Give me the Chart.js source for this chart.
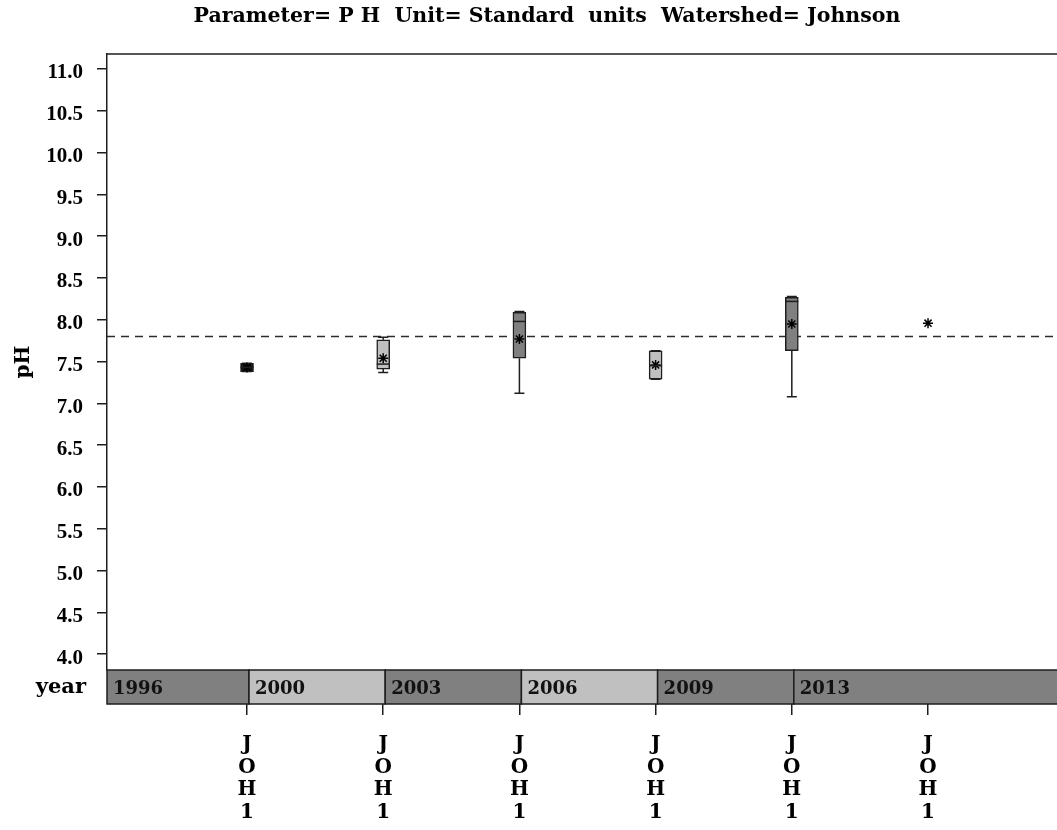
<!DOCTYPE html>
<html>
<head>
<meta charset="utf-8">
<script src="https://cdn.jsdelivr.net/npm/chart.js@4.4.1/dist/chart.umd.min.js"></script>
<style>
  html, body { margin: 0; padding: 0; background: #ffffff; }
  canvas { display: block; }
</style>
</head>
<body>
<canvas id="chart" width="1057" height="830"></canvas>
<script>
// pH summary by sampling year for station JOH1 (Johnson watershed)
const chartTitle = 'Parameter= P H  Unit= Standard  units  Watershed= Johnson';
const stationLabels = ['JOH1', 'JOH1', 'JOH1', 'JOH1', 'JOH1', 'JOH1'];
const years = ['1996', '2000', '2003', '2006', '2009', '2013'];
const yearShades = ['#808080', '#c0c0c0', '#808080', '#c0c0c0', '#808080', '#808080'];
const boxShades = ['#151515', '#c0c0c0', '#808080', '#c0c0c0', '#808080', null];

// box statistics (null where only one observation exists)
const whiskerLow  = [7.38, 7.37, 7.12, 7.29, 7.08, null];
const q1          = [7.38, 7.41, 7.54, 7.29, 7.63, null];
const median      = [7.43, 7.47, 7.98, 7.45, 8.22, null];
const q3          = [7.48, 7.76, 8.09, 7.63, 8.27, null];
const whiskerHigh = [7.48, 7.79, 8.10, 7.63, 8.28, null];
const means       = [7.43, 7.54, 7.77, 7.46, 7.95, 7.96];

const referenceLevel = 7.8;
const yTickValues = [4.0, 4.5, 5.0, 5.5, 6.0, 6.5, 7.0, 7.5, 8.0, 8.5, 9.0, 9.5, 10.0, 10.5, 11.0];

const SERIF = "'DejaVu Serif', serif";
const TIMES = "'Liberation Serif', serif";
const INK = '#1e1e1e';

const boxData = [];
const boxColors = [];
q1.forEach((lo, i) => {
  if (lo !== null) {
    boxData.push({ x: i, y: [lo, q3[i]] });
    boxColors.push(boxShades[i]);
  }
});
const meanData = means.map((m, i) => ({ x: i, y: m }));

const decorPlugin = {
  id: 'decor',
  beforeDatasetsDraw(chart) {
    const { ctx, chartArea, scales } = chart;
    const y = scales.y.getPixelForValue(referenceLevel);
    ctx.save();
    ctx.strokeStyle = '#2a2a2a';
    ctx.lineWidth = 1.5;
    ctx.setLineDash([8, 6]);
    ctx.beginPath();
    ctx.moveTo(chartArea.left, y);
    ctx.lineTo(chartArea.right, y);
    ctx.stroke();
    ctx.restore();

    // whiskers and caps
    ctx.save();
    ctx.strokeStyle = INK;
    ctx.lineWidth = 1.5;
    q1.forEach((lo, i) => {
      if (lo === null) return;
      const x = scales.x.getPixelForValue(i);
      const yLo = scales.y.getPixelForValue(whiskerLow[i]);
      const yQ1 = scales.y.getPixelForValue(q1[i]);
      const yQ3 = scales.y.getPixelForValue(q3[i]);
      const yHi = scales.y.getPixelForValue(whiskerHigh[i]);
      ctx.beginPath();
      ctx.moveTo(x, yQ1); ctx.lineTo(x, yLo);
      ctx.moveTo(x, yQ3); ctx.lineTo(x, yHi);
      ctx.moveTo(x - 5, yLo); ctx.lineTo(x + 5, yLo);
      ctx.moveTo(x - 5, yHi); ctx.lineTo(x + 5, yHi);
      ctx.stroke();
    });
    ctx.restore();
  },
  afterDatasetsDraw(chart) {
    const { ctx, scales } = chart;
    ctx.save();
    ctx.strokeStyle = INK;
    ctx.lineWidth = 1.5;
    median.forEach((m, i) => {
      if (m === null) return;
      const x = scales.x.getPixelForValue(i);
      const y = scales.y.getPixelForValue(m);
      ctx.beginPath();
      ctx.moveTo(x - 6.5, y); ctx.lineTo(x + 6.5, y);
      ctx.stroke();
    });
    ctx.restore();
  },
  afterDraw(chart) {
    const { ctx, chartArea, scales } = chart;
    const bandTop = chartArea.bottom;
    const bandBottom = chartArea.bottom + 34;
    ctx.save();

    // year band
    const starts = years.map((_, i) => i === 0 ? chartArea.left : scales.x.getPixelForValue(i - 1) + 2);
    years.forEach((yr, i) => {
      const x0 = starts[i];
      const x1 = i < years.length - 1 ? starts[i + 1] : chartArea.right + 2;
      ctx.fillStyle = yearShades[i];
      ctx.fillRect(x0, bandTop, x1 - x0, bandBottom - bandTop);
      ctx.strokeStyle = INK;
      ctx.lineWidth = 1.5;
      ctx.strokeRect(x0, bandTop, x1 - x0, bandBottom - bandTop);
      ctx.fillStyle = '#111111';
      ctx.font = "bold 18px " + SERIF;
      ctx.textAlign = 'left';
      ctx.textBaseline = 'middle';
      ctx.fillText(yr, x0 + 6, (bandTop + bandBottom) / 2 + 2);
    });

    // band caption
    ctx.fillStyle = '#000000';
    ctx.font = "bold 21px " + SERIF;
    ctx.textAlign = 'right';
    ctx.textBaseline = 'middle';
    ctx.fillText('year', 86, (bandTop + bandBottom) / 2 + 1);

    // top frame line
    ctx.strokeStyle = INK;
    ctx.lineWidth = 1.5;
    ctx.beginPath();
    ctx.moveTo(chartArea.left, chartArea.top);
    ctx.lineTo(chartArea.right + 2, chartArea.top);
    ctx.stroke();

    // title
    ctx.fillStyle = '#000000';
    ctx.font = "bold 20.5px " + SERIF;
    ctx.textAlign = 'center';
    ctx.textBaseline = 'middle';
    ctx.fillText(chartTitle, 547, 17);
    ctx.restore();
  }
};

Chart.defaults.color = '#000000';

new Chart(document.getElementById('chart'), {
  type: 'bar',
  data: {
    datasets: [
      {
        type: 'bar',
        data: boxData,
        backgroundColor: boxColors,
        borderColor: INK,
        borderWidth: 1.5,
        borderSkipped: false,
        barThickness: 13,
        order: 2
      },
      {
        type: 'scatter',
        data: meanData,
        pointStyle: 'star',
        radius: 5,
        borderColor: '#000000',
        backgroundColor: '#000000',
        borderWidth: 1.5,
        order: 1
      }
    ]
  },
  options: {
    responsive: false,
    animation: false,
    events: [],
    layout: { autoPadding: false, padding: { top: 54, left: 0, right: 0, bottom: 0 } },
    plugins: {
      legend: { display: false },
      tooltip: { enabled: false },
      title: { display: false }
    },
    scales: {
      x: {
        type: 'linear',
        offset: false,
        min: -1.028,
        max: 5.947,
        afterBuildTicks: (scale) => {
          scale.ticks = stationLabels.map((_, i) => ({ value: i }));
        },
        afterFit: (scale) => {
          scale.height = 160;
          scale.paddingRight = 0;
          scale.paddingLeft = 0;
        },
        grid: {
          offset: false,
          drawOnChartArea: false,
          drawTicks: true,
          tickLength: 45,
          color: INK,
          lineWidth: 1.5
        },
        border: { display: false },
        ticks: {
          padding: 19,
          maxRotation: 0,
          autoSkip: false,
          color: '#000000',
          font: { family: SERIF, size: 20, weight: 'bold', lineHeight: 1.125 },
          callback: (value) => stationLabels[Math.round(value)].split('')
        }
      },
      y: {
        type: 'linear',
        min: 3.81,
        max: 11.18,
        afterBuildTicks: (scale) => {
          scale.ticks = yTickValues.map(v => ({ value: v }));
        },
        afterFit: (scale) => { scale.width = 107; },
        grid: {
          drawOnChartArea: false,
          drawTicks: true,
          tickLength: 10,
          color: INK,
          lineWidth: 1.5
        },
        border: { display: true, color: INK, width: 1.5 },
        ticks: {
          padding: 14,
          labelOffset: 4,
          color: '#000000',
          font: { family: TIMES, size: 21, weight: 'bold' },
          callback: (value) => Number(value).toFixed(1)
        },
        title: {
          display: true,
          text: 'pH',
          color: '#000000',
          font: { family: SERIF, size: 20, weight: 'bold' },
          padding: { top: 12, bottom: 0 }
        }
      }
    }
  },
  plugins: [decorPlugin]
});
</script>
</body>
</html>
